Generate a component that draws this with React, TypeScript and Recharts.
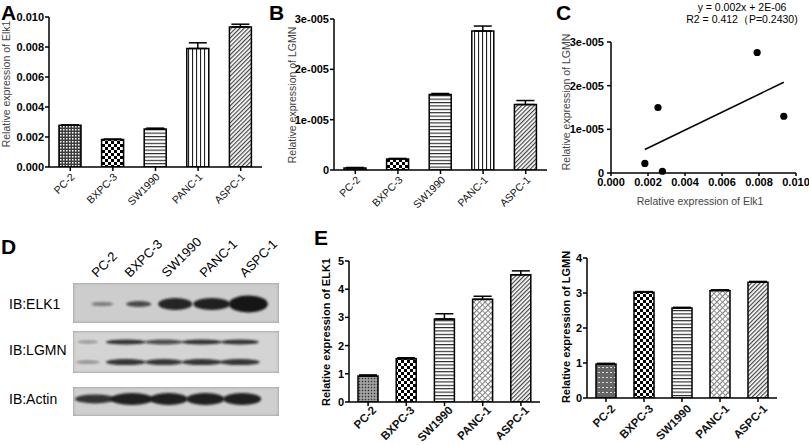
import React from 'react';
import {
  BarChart,
  Bar,
  Cell,
  ErrorBar,
  XAxis,
  YAxis,
  ScatterChart,
  Scatter,
} from 'recharts';

const FONT = 'Arial, "Liberation Sans", sans-serif';

// cell lines
const cells = ['PC-2', 'BXPC-3', 'SW1990', 'PANC-1', 'ASPC-1'];

// A: qPCR Elk1
const elk1Mrna = [0.00278, 0.00183, 0.00254, 0.0079, 0.00934];
const elk1MrnaErr = [0.00002, 0.00003, 0.00005, 0.00038, 0.00018];
const elkTicks = [0, 0.002, 0.004, 0.006, 0.008, 0.01];

// B: qPCR LGMN
const lgmnMrna = [0.04e-5, 0.22e-5, 1.5e-5, 2.76e-5, 1.3e-5];
const lgmnMrnaErr = [0.01e-5, 0.01e-5, 0.02e-5, 0.1e-5, 0.08e-5];
const lgmnTicks = [0, 1e-5, 2e-5, 3e-5];

// E: western blot quantification
const elk1Prot = [0.92, 1.53, 2.94, 3.64, 4.51];
const elk1ProtErr = [0.04, 0.04, 0.19, 0.11, 0.14];
const lgmnProt = [0.97, 3.02, 2.57, 3.07, 3.31];
const lgmnProtErr = [0.02, 0.02, 0.02, 0.02, 0.02];

// D: band look (width px, height px, darkness)
const elk1BandW = [22, 25, 34, 37, 39];
const elk1BandH = [4, 6, 12, 12, 17];
const elk1BandA = [0.45, 0.7, 0.92, 0.95, 1];
const lgmnUpW = [20, 40, 38, 40, 38];
const lgmnUpH = [3, 5, 5, 5, 5];
const lgmnUpA = [0.35, 0.85, 0.7, 0.85, 0.85];
const lgmnLoW = [24, 40, 38, 40, 40];
const lgmnLoH = [3, 6, 6, 6, 6];
const lgmnLoA = [0.4, 0.85, 0.8, 0.85, 0.85];
const actinW = [40, 42, 38, 38, 38];
const actinH = [9, 12, 12, 12, 12];
const actinA = [0.85, 0.95, 0.95, 0.95, 0.95];

const pat1 = ['pDarkDots', 'pChecker', 'pHLines', 'pVLines', 'pDiag'];
const pat2 = ['pGrayDots', 'pChecker', 'pHLines', 'pLightX', 'pDiag'];
const pat3 = ['pDashGray', 'pChecker', 'pHLines', 'pLightX', 'pDiag'];

const barData = (vals: number[], errs: number[]) =>
  cells.map((name, i) => ({ name, v: vals[i], e: [0, errs[i]] }));

const sciFmt = (v: number) => (v === 0 ? '0' : `${Math.round(v / 1e-5)}e-005`);

function RotTick(props: any) {
  const { x, y, payload, size, weight, dx, dy } = props;
  const tx = x + dx;
  const ty = y + dy;
  return (
    <text
      x={tx}
      y={ty}
      transform={`rotate(-45 ${tx} ${ty})`}
      textAnchor="end"
      fontSize={size}
      fontWeight={weight}
      fontFamily={FONT}
      fill="#111"
    >
      {payload.value}
    </text>
  );
}

const yTick = { fill: '#000', fontSize: 11, fontWeight: 700, fontFamily: FONT };
const axisLine = { stroke: '#000', strokeWidth: 1.5 };

interface PanelProps {
  data: { name: string; v: number; e: number[] }[];
  patterns: string[];
  width: number;
  height: number;
  margin: { top: number; right: number; bottom: number; left: number };
  yWidth: number;
  xHeight: number;
  domain: [number, number];
  ticks: number[];
  fmt: (v: number) => string;
  barSize: number;
  labelSize: number;
  labelWeight: number;
  ldx: number;
  ldy: number;
}

function BarPanel(p: PanelProps) {
  return (
    <BarChart width={p.width} height={p.height} data={p.data} margin={p.margin} barSize={p.barSize}>
      <XAxis
        dataKey="name"
        interval={0}
        height={p.xHeight}
        tickSize={4}
        axisLine={axisLine}
        tickLine={axisLine}
        tick={(t: any) => (
          <RotTick {...t} size={p.labelSize} weight={p.labelWeight} dx={p.ldx} dy={p.ldy} />
        )}
      />
      <YAxis
        width={p.yWidth}
        domain={p.domain}
        ticks={p.ticks}
        tickFormatter={p.fmt}
        tickSize={4}
        tickMargin={1}
        axisLine={axisLine}
        tickLine={axisLine}
        tick={yTick}
        allowDataOverflow
      />
      <Bar dataKey="v" stroke="#000" strokeWidth={1.5} isAnimationActive={false}>
        {p.data.map((d, i) => (
          <Cell key={d.name} fill={`url(#${p.patterns[i]})`} />
        ))}
        <ErrorBar dataKey="e" width={9} stroke="#000" strokeWidth={1.5} direction="y" />
      </Bar>
    </BarChart>
  );
}

// scatter + least squares fit
const scatterPts = cells.map((name, i) => ({ name, x: elk1Mrna[i], y: lgmnMrna[i] }));
const mx = elk1Mrna.reduce((a, b) => a + b, 0) / elk1Mrna.length;
const my = lgmnMrna.reduce((a, b) => a + b, 0) / lgmnMrna.length;
const slope =
  elk1Mrna.reduce((s, x, i) => s + (x - mx) * (lgmnMrna[i] - my), 0) /
  elk1Mrna.reduce((s, x) => s + (x - mx) * (x - mx), 0);
const intercept = my - slope * mx;
const fitPts = [Math.min(...elk1Mrna), Math.max(...elk1Mrna)].map((x) => ({
  x,
  y: slope * x + intercept,
}));

interface StripProps {
  width: number;
  height: number;
  bg: string;
  lanes: [number, number];
  rows: { y: number; w: number[]; h: number[]; a: number[] }[];
}

function BlotStrip({ width, height, bg, lanes, rows }: StripProps) {
  const data = rows.flatMap((r) =>
    cells.map((name, i) => ({ name, x: i, y: r.y, w: r.w[i], h: r.h[i], a: r.a[i] }))
  );
  return (
    <div style={{ width, height, background: bg, boxShadow: 'inset 0 0 3px #888' }}>
      <ScatterChart width={width} height={height} margin={{ top: 0, right: 0, bottom: 0, left: 0 }}>
        <XAxis type="number" dataKey="x" domain={lanes} hide />
        <YAxis type="number" dataKey="y" domain={[0, 1]} hide />
        <Scatter
          data={data}
          isAnimationActive={false}
          shape={(s: any) => (
            <ellipse
              cx={s.cx}
              cy={s.cy}
              rx={s.payload.w / 2}
              ry={s.payload.h / 2}
              fill="#141414"
              fillOpacity={s.payload.a}
              filter="url(#blotBlur)"
            />
          )}
        />
      </ScatterChart>
    </div>
  );
}

const abs = (left: number, top: number): React.CSSProperties => ({
  position: 'absolute',
  left,
  top,
});

export default function App() {
  return (
    <div
      style={{
        position: 'absolute',
        left: 0,
        top: 0,
        width: 809,
        height: 445,
        background: '#fff',
        overflow: 'hidden',
        fontFamily: FONT,
      }}
    >
      <svg width={0} height={0} style={{ position: 'absolute' }}>
        <defs>
          <pattern id="pDarkDots" width="3" height="3" patternUnits="userSpaceOnUse">
            <rect width="3" height="3" fill="#3c3c3c" />
            <rect width="1.5" height="1.5" fill="#fff" />
          </pattern>
          <pattern id="pChecker" width="6" height="6" patternUnits="userSpaceOnUse">
            <rect width="6" height="6" fill="#fff" />
            <rect width="3" height="3" fill="#000" />
            <rect x="3" y="3" width="3" height="3" fill="#000" />
          </pattern>
          <pattern id="pHLines" width="4" height="3.4" patternUnits="userSpaceOnUse">
            <rect width="4" height="3.4" fill="#fff" />
            <rect width="4" height="1.1" fill="#222" />
          </pattern>
          <pattern id="pVLines" width="4" height="4" patternUnits="userSpaceOnUse">
            <rect width="4" height="4" fill="#fff" />
            <rect width="1.1" height="4" fill="#222" />
          </pattern>
          <pattern id="pDiag" width="3" height="3" patternUnits="userSpaceOnUse" patternTransform="rotate(45)">
            <rect width="3" height="3" fill="#fff" />
            <rect width="1.2" height="3" fill="#444" />
          </pattern>
          <pattern id="pGrayDots" width="3" height="3" patternUnits="userSpaceOnUse">
            <rect width="3" height="3" fill="#8a8a8a" />
            <rect width="1" height="1" fill="#333" />
            <rect x="1.5" y="1.5" width="1" height="1" fill="#eee" />
          </pattern>
          <pattern id="pLightX" width="4" height="4" patternUnits="userSpaceOnUse" patternTransform="rotate(45)">
            <rect width="4" height="4" fill="#fff" />
            <rect width="0.9" height="4" fill="#666" />
            <rect width="4" height="0.9" fill="#888" />
          </pattern>
          <pattern id="pDashGray" width="4" height="5" patternUnits="userSpaceOnUse">
            <rect width="4" height="5" fill="#666" />
            <rect y="2" width="2" height="1" fill="#ddd" />
          </pattern>
          <filter id="blotBlur" x="-30%" y="-80%" width="160%" height="260%">
            <feGaussianBlur stdDeviation="1.3" />
          </filter>
        </defs>
      </svg>

      {/* A */}
      <div style={abs(0, 0)}>
        <BarPanel
          data={barData(elk1Mrna, elk1MrnaErr)}
          patterns={pat1}
          width={270}
          height={230}
          margin={{ top: 17, right: 8, bottom: 2, left: 0 }}
          yWidth={49}
          xHeight={61}
          domain={[0, 0.01]}
          ticks={elkTicks}
          fmt={(v) => v.toFixed(3)}
          barSize={22}
          labelSize={10.5}
          labelWeight={400}
          ldx={5}
          ldy={4.5}
        />
      </div>

      {/* B */}
      <div style={abs(270, 0)}>
        <BarPanel
          data={barData(lgmnMrna, lgmnMrnaErr)}
          patterns={pat1}
          width={285}
          height={230}
          margin={{ top: 19, right: 8, bottom: 2, left: 0 }}
          yWidth={64}
          xHeight={58}
          domain={[0, 3e-5]}
          ticks={lgmnTicks}
          fmt={sciFmt}
          barSize={22}
          labelSize={10.5}
          labelWeight={400}
          ldx={5.5}
          ldy={4.5}
        />
      </div>

      {/* C */}
      <div style={abs(555, 0)}>
        <ScatterChart width={254} height={230} margin={{ top: 42, right: 13, bottom: 17, left: 0 }}>
          <XAxis
            type="number"
            dataKey="x"
            domain={[0, 0.01]}
            ticks={elkTicks}
            tickFormatter={(v: number) => v.toFixed(3)}
            height={40}
            tickSize={3}
            tickMargin={2}
            axisLine={axisLine}
            tickLine={axisLine}
            tick={yTick}
          />
          <YAxis
            type="number"
            dataKey="y"
            width={56}
            domain={[0, 3e-5]}
            ticks={lgmnTicks}
            tickFormatter={sciFmt}
            tickSize={4}
            tickMargin={3}
            axisLine={axisLine}
            tickLine={axisLine}
            tick={yTick}
          />
          <Scatter
            data={fitPts}
            isAnimationActive={false}
            line={{ stroke: '#000', strokeWidth: 1.5 }}
            shape={() => <g />}
          />
          <Scatter
            data={scatterPts}
            isAnimationActive={false}
            shape={(s: any) => <circle cx={s.cx} cy={s.cy} r={3.6} fill="#000" />}
          />
        </ScatterChart>
      </div>

      {/* D blot */}
      <div style={abs(73, 283)}>
        <BlotStrip
          width={206}
          height={40}
          bg="#cdcdcd"
          lanes={[-0.8, 4.84]}
          rows={[{ y: 0.475, w: elk1BandW, h: elk1BandH, a: elk1BandA }]}
        />
      </div>
      <div style={abs(73, 331)}>
        <BlotStrip
          width={206}
          height={42}
          bg="#d4d4d4"
          lanes={[-0.39, 5.03]}
          rows={[
            { y: 0.74, w: lgmnUpW, h: lgmnUpH, a: lgmnUpA },
            { y: 0.26, w: lgmnLoW, h: lgmnLoH, a: lgmnLoA },
          ]}
        />
      </div>
      <div style={abs(73, 387)}>
        <BlotStrip
          width={206}
          height={29}
          bg="#cfcfcf"
          lanes={[-0.6, 5.0]}
          rows={[{ y: 0.59, w: actinW, h: actinH, a: actinA }]}
        />
      </div>

      {/* E left */}
      <div style={abs(290, 225)}>
        <BarPanel
          data={barData(elk1Prot, elk1ProtErr)}
          patterns={pat2}
          width={260}
          height={220}
          margin={{ top: 36, right: 10, bottom: 0, left: 0 }}
          yWidth={59}
          xHeight={43}
          domain={[0, 5]}
          ticks={[0, 1, 2, 3, 4, 5]}
          fmt={(v) => String(v)}
          barSize={20}
          labelSize={11.5}
          labelWeight={700}
          ldx={9}
          ldy={3}
        />
      </div>

      {/* E right */}
      <div style={abs(550, 225)}>
        <BarPanel
          data={barData(lgmnProt, lgmnProtErr)}
          patterns={pat3}
          width={250}
          height={220}
          margin={{ top: 33, right: 23, bottom: 0, left: 0 }}
          yWidth={37}
          xHeight={47}
          domain={[0, 4]}
          ticks={[0, 1, 2, 3, 4]}
          fmt={(v) => String(v)}
          barSize={20}
          labelSize={11.5}
          labelWeight={700}
          ldx={10}
          ldy={5.5}
        />
      </div>

      {/* text overlay */}
      <svg
        width={809}
        height={445}
        style={{ position: 'absolute', left: 0, top: 0, pointerEvents: 'none' }}
        fontFamily={FONT}
      >
        <g fontSize={21} fontWeight={700} fill="#000">
          <text x={1} y={20}>A</text>
          <text x={269} y={20}>B</text>
          <text x={556} y={20}>C</text>
          <text x={1} y={254}>D</text>
          <text x={314} y={245}>E</text>
        </g>
        <g fontSize={10.5} fill="#444" textAnchor="middle" dominantBaseline="central">
          <text transform="translate(6 84) rotate(-90)">Relative  expression of Elk1</text>
          <text transform="translate(292 95) rotate(-90)">Relative  expression of LGMN</text>
          <text transform="translate(566 102) rotate(-90)">Relative  expression of LGMN</text>
          <text x={700} y={201}>Relative  expression of Elk1</text>
        </g>
        <g fontSize={10.5} fill="#000" textAnchor="middle">
          <text x={742} y={11}>y = 0.002x + 2E-06</text>
          <text x={742} y={23}>R2 = 0.412（P=0.2430)</text>
        </g>
        <g fontSize={11} fontWeight={700} fill="#000" textAnchor="middle" dominantBaseline="central">
          <text transform="translate(326 332) rotate(-90)">Relative expression of ELK1</text>
          <text transform="translate(566 327) rotate(-90)">Relative expression of  LGMN</text>
        </g>
        <g fontSize={14} fill="#000" dominantBaseline="central">
          <text x={9} y={304}>IB:ELK1</text>
          <text x={9} y={350}>IB:LGMN</text>
          <text x={9} y={399}>IB:Actin</text>
        </g>
        <g fontSize={13} fill="#000">
          {cells.map((c, i) => {
            const lx = [97, 130, 167, 205, 245][i];
            return (
              <text key={c} x={lx} y={278} transform={`rotate(-45 ${lx} 278)`}>
                {c}
              </text>
            );
          })}
        </g>
      </svg>
    </div>
  );
}
